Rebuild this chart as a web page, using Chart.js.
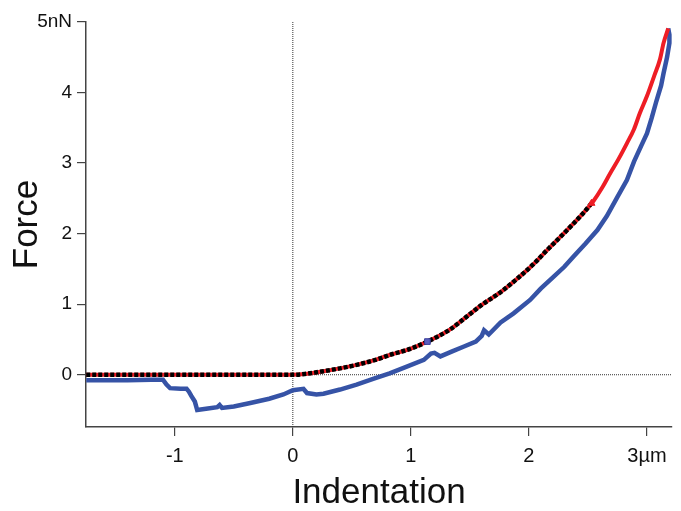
<!DOCTYPE html>
<html>
<head>
<meta charset="utf-8">
<script src="https://cdn.jsdelivr.net/npm/chart.js@4/dist/chart.umd.min.js"></script>
<style>
  html, body { margin: 0; padding: 0; background: #fff; }
  #wrap { width: 681px; height: 511px; }
</style>
</head>
<body>
<div id="wrap"><canvas id="c" width="681" height="511"></canvas></div>
<script>
// indentation (µm) / force (nN)

// approach curve (red)
const approachX = [-1.75, -1.0, -0.5, 0, 0.1, 0.26, 0.4, 0.54, 0.7, 0.82, 1.0, 1.14, 1.33, 1.47, 1.6, 1.76, 1.9, 2.04, 2.15, 2.27, 2.37, 2.46, 2.55, 2.62, 2.69, 2.76, 2.83, 2.89, 2.94, 3.0, 3.06, 3.11, 3.14, 3.18];
const approachY = [0, 0, 0, 0, 0.01, 0.05, 0.09, 0.14, 0.21, 0.28, 0.37, 0.47, 0.64, 0.82, 0.99, 1.17, 1.36, 1.57, 1.76, 1.96, 2.13, 2.29, 2.47, 2.65, 2.86, 3.06, 3.28, 3.48, 3.71, 3.95, 4.23, 4.47, 4.7, 4.91];

// fit (black dotted)
const fitX = [-1.75, -1.0, -0.5, 0, 0.1, 0.26, 0.4, 0.54, 0.7, 0.82, 1.0, 1.14, 1.33, 1.47, 1.6, 1.76, 1.9, 2.04, 2.15, 2.27, 2.37, 2.46, 2.53];
const fitY = [0, 0, 0, 0, 0.01, 0.05, 0.09, 0.14, 0.21, 0.28, 0.37, 0.47, 0.64, 0.82, 0.99, 1.17, 1.36, 1.57, 1.76, 1.96, 2.13, 2.29, 2.43];

// retract curve (blue)
const retractX = [-1.75, -1.4, -1.2, -1.1, -1.07, -1.04, -0.95, -0.9, -0.88, -0.86, -0.83, -0.81, -0.72, -0.64, -0.62, -0.6, -0.5, -0.36, -0.2, -0.08, 0, 0.09, 0.12, 0.2, 0.26, 0.4, 0.54, 0.68, 0.82, 0.96, 1.11, 1.17, 1.2, 1.25, 1.35, 1.45, 1.55, 1.6, 1.62, 1.66, 1.76, 1.87, 2.01, 2.1, 2.21, 2.3, 2.38, 2.48, 2.58, 2.66, 2.75, 2.83, 2.89, 2.95, 3.0, 3.04, 3.08, 3.12, 3.14, 3.17, 3.19, 3.19, 3.18];
const retractY = [-0.08, -0.08, -0.07, -0.07, -0.14, -0.19, -0.2, -0.2, -0.24, -0.3, -0.38, -0.5, -0.48, -0.46, -0.43, -0.47, -0.45, -0.4, -0.34, -0.28, -0.22, -0.2, -0.26, -0.28, -0.27, -0.21, -0.14, -0.06, 0.02, 0.11, 0.21, 0.3, 0.31, 0.26, 0.33, 0.4, 0.47, 0.55, 0.63, 0.57, 0.74, 0.87, 1.06, 1.22, 1.39, 1.53, 1.68, 1.86, 2.05, 2.25, 2.52, 2.76, 3.02, 3.24, 3.42, 3.64, 3.88, 4.1, 4.27, 4.5, 4.7, 4.82, 4.91];

// fit range cursors
const cursorBlue = [1.14, 0.47];
const cursorRed = [2.53, 2.43];

// axes
const xMin = -1.752, xMax = 3.212;
const yMin = -0.741, yMax = 5;

const pts = (xs, ys) => xs.map((x, i) => ({ x, y: ys[i] }));

const RED = '#ee1d25';
const BLUE = '#3653a6';
const FONT = 'Liberation Sans, Arial, sans-serif';

new Chart(document.getElementById('c'), {
  type: 'scatter',
  data: {
    datasets: [
      {
        data: [{ x: cursorBlue[0], y: cursorBlue[1] }],
        pointStyle: 'rect', pointRadius: 4, backgroundColor: '#5a5fc0', borderColor: '#3a3f9a', borderWidth: 1,
        showLine: false, order: 0,
      },
      {
        data: [{ x: cursorRed[0], y: cursorRed[1] }],
        pointStyle: 'triangle', pointRadius: 4, backgroundColor: RED, borderColor: RED, borderWidth: 1,
        showLine: false, order: 0,
      },
      {
        data: pts(fitX, fitY), showLine: true, pointRadius: 0,
        borderColor: '#000', borderWidth: 4.5, borderDash: [4, 2], cubicInterpolationMode: 'monotone', order: 1,
      },
      {
        data: pts(approachX, approachY), showLine: true, pointRadius: 0,
        borderColor: RED, borderWidth: 4, cubicInterpolationMode: 'monotone', order: 2,
      },
      {
        data: pts(retractX, retractY), showLine: true, pointRadius: 0,
        borderColor: BLUE, borderWidth: 4.5, tension: 0, order: 3,
      },
      {
        data: [{ x: xMin, y: 0 }, { x: xMax, y: 0 }], showLine: true, pointRadius: 0,
        borderColor: '#333', borderWidth: 1, borderDash: [1, 1], order: 4,
      },
      {
        data: [{ x: 0, y: yMin }, { x: 0, y: yMax }], showLine: true, pointRadius: 0,
        borderColor: '#333', borderWidth: 1, borderDash: [1, 1], order: 4,
      },
    ],
  },
  options: {
    responsive: false,
    animation: false,
    events: [],
    layout: { padding: { top: 22, right: 9, bottom: 0, left: 0 } },
    plugins: { legend: { display: false }, tooltip: { enabled: false } },
    scales: {
      x: {
        type: 'linear', min: xMin, max: xMax,
        afterFit: (s) => { s.height = 84; },
        grid: { drawOnChartArea: false, drawTicks: true, tickLength: 9, color: '#444', lineWidth: 1.2 },
        border: { display: true, color: '#444', width: 1.5 },
        ticks: {
          stepSize: 1, includeBounds: false, padding: 8, color: '#111',
          font: { family: FONT, size: 20 },
          callback: (v) => (v === 3 ? '3µm' : String(v)),
        },
        title: {
          display: true, text: 'Indentation', color: '#111', padding: { top: 0, bottom: 0 },
          font: { family: FONT, size: 35, lineHeight: 1.0 },
        },
      },
      y: {
        type: 'linear', min: yMin, max: yMax,
        afterFit: (s) => { s.width = 86; },
        grid: { drawOnChartArea: false, drawTicks: true, tickLength: 9, color: '#444', lineWidth: 1.2 },
        border: { display: true, color: '#444', width: 1.5 },
        ticks: {
          stepSize: 1, includeBounds: false, padding: 5, color: '#111',
          font: { family: FONT, size: 19 },
          callback: (v) => (v === 5 ? '5nN' : String(v)),
        },
        title: {
          display: true, text: 'Force', color: '#111', padding: { top: 6, bottom: 0 },
          font: { family: FONT, size: 35 },
        },
      },
    },
  },
});
</script>
</body>
</html>
